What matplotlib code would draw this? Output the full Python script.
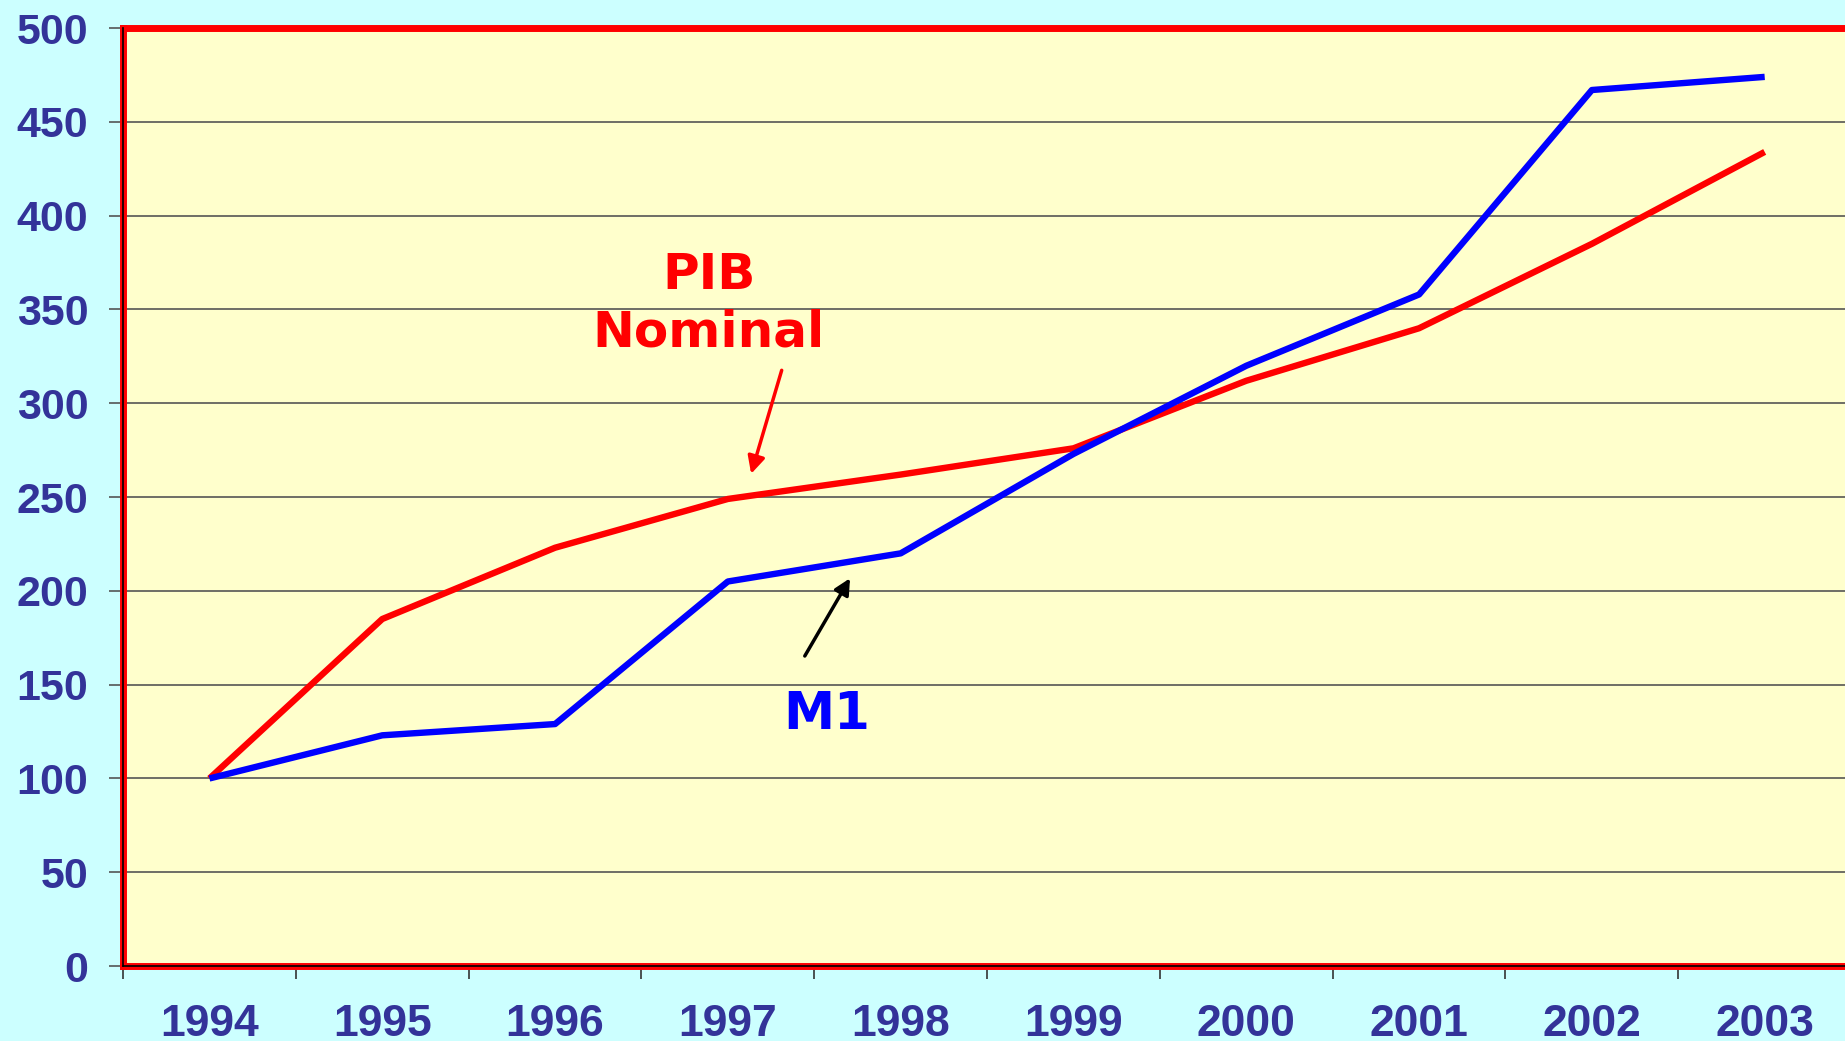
import matplotlib.pyplot as plt
import numpy as np

years = ['1994', '1995', '1996', '1997', '1998', '1999', '2000', '2001', '2002', '2003']
pib_nominal = [100, 185, 223, 249, 262, 276, 312, 340, 385, 434]
m1 = [100, 123, 129, 205, 220, 273, 320, 358, 467, 474]
y_ticks = [0, 50, 100, 150, 200, 250, 300, 350, 400, 450, 500]

label_color = '#333399'

fig = plt.figure(figsize=(18.45, 10.41), dpi=100, facecolor='#CCFFFF')
ax = fig.add_axes([0.0667, 0.072, 0.9366, 0.901], facecolor='#FFFFCC')

x = np.arange(len(years))
ax.plot(x, pib_nominal, color='#FF0000', lw=4.6, solid_capstyle='butt', zorder=3)
ax.plot(x, m1, color='#0000FF', lw=4.6, solid_capstyle='butt', zorder=4)

ax.set_xlim(-0.5, len(years) - 0.5)
ax.set_ylim(0, 500)
ax.set_yticks(y_ticks)
ax.set_yticklabels([str(v) for v in y_ticks])
ax.set_xticks(x)
ax.set_xticklabels(years)
ax.set_xticks(np.arange(len(years) + 1) - 0.5, minor=True)

ax.grid(axis='y', color='#555555', lw=1.2, zorder=1)
ax.set_axisbelow(True)

# y ticks outside, x major ticks hidden, minor ticks at category boundaries
ax.tick_params(axis='y', direction='out', length=10, width=1.2, color='#555555',
               pad=15, labelsize=31, labelcolor=label_color)
ax.tick_params(axis='x', which='major', length=0, pad=27, labelsize=32, labelcolor=label_color)
ax.tick_params(axis='x', which='minor', direction='out', length=9, width=1.2, color='#333333')
for lab in ax.get_xticklabels() + ax.get_yticklabels():
    lab.set_fontfamily('Liberation Sans')
    lab.set_fontweight('bold')

for side in ['left', 'right', 'top', 'bottom']:
    ax.spines[side].set_color('#FF0000')
    ax.spines[side].set_linewidth(5)
ax.axvline(-0.5, color='black', lw=1.2, zorder=5, clip_on=False)
ax.axhline(0, color='black', lw=1.2, zorder=5, clip_on=False)

ax.text(2.89, 353, 'PIB\nNominal', color='#FF0000', fontsize=36, fontweight='bold',
        ha='center', va='center', linespacing=1.27, family='DejaVu Sans')
ax.annotate('', xy=(3.13, 261), xytext=(3.316, 319),
            arrowprops=dict(arrowstyle='-|>', color='#FF0000', lw=2.5, mutation_scale=26))

ax.text(3.57, 134, 'M1', color='#0000FF', fontsize=37, fontweight='bold',
        ha='center', va='center', family='DejaVu Sans')
ax.annotate('', xy=(3.715, 208), xytext=(3.437, 164),
            arrowprops=dict(arrowstyle='-|>', color='black', lw=2.5, mutation_scale=24))

fig.savefig('out.png', dpi=100, facecolor=fig.get_facecolor())
